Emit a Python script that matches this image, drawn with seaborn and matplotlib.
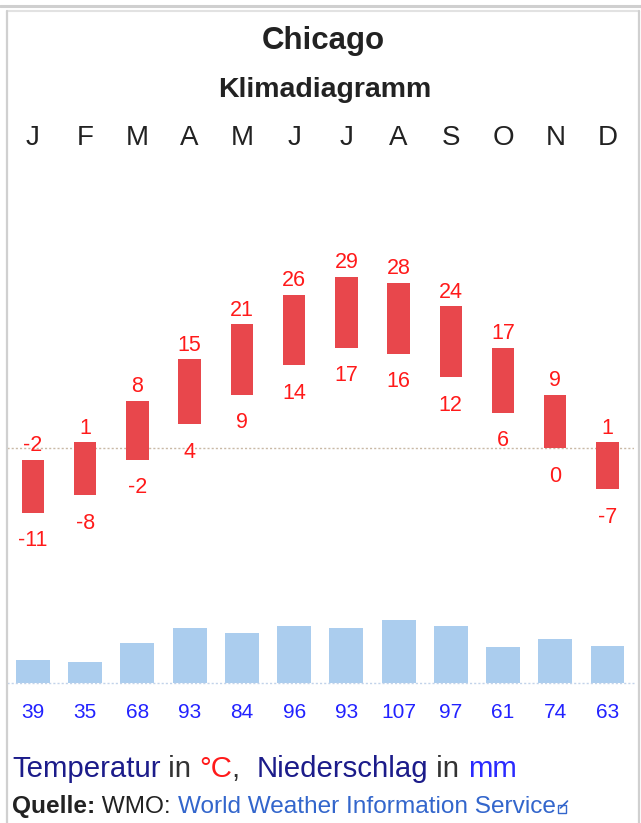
import numpy as np
import pandas as pd
import seaborn as sns
import matplotlib.pyplot as plt
from matplotlib.lines import Line2D
from matplotlib.patches import Rectangle

months = ["J", "F", "M", "A", "M", "J", "J", "A", "S", "O", "N", "D"]
t_max = [-2, 1, 8, 15, 21, 26, 29, 28, 24, 17, 9, 1]
t_min = [-11, -8, -2, 4, 9, 14, 17, 16, 12, 6, 0, -7]
precip = [39, 35, 68, 93, 84, 96, 93, 107, 97, 61, 74, 63]

W, H = 641, 823

sns.set_theme(style="white")
plt.rcParams["font.family"] = ["Liberation Sans", "DejaVu Sans"]

fig = plt.figure(figsize=(W / 100, H / 100), dpi=100)
fig.patch.set_facecolor("white")


def fx(px):
    return px / W


def fy(py):
    return 1 - py / H


# frame around the box
fig.add_artist(Line2D([0, 1], [fy(6), fy(6)], color="#cfcfcf", lw=2.2))
fig.add_artist(Line2D([fx(7), fx(639)], [fy(11), fy(11)], color="#e2e2e2", lw=1.5))
fig.add_artist(Line2D([fx(7), fx(7)], [fy(11), 0], color="#d0d0d0", lw=1.6))
fig.add_artist(Line2D([fx(639), fx(639)], [fy(11), 0], color="#d0d0d0", lw=1.6))

left, right = 6.9, 633.6
# temperature panel: zero line at 448 px, 5.9 px per degree
t_top, t_bot = 150, 560
ax = fig.add_axes([fx(left), fy(t_bot), fx(right - left), (t_bot - t_top) / H])
ax.set_xlim(-0.5, 11.5)
ax.set_ylim(-(t_bot - 448) / 5.9, (448 - t_top) / 5.9)

x = np.arange(12)
ax.bar(x, np.array(t_max) - np.array(t_min), bottom=t_min, width=0.43,
       color="#e8474c", linewidth=0)
ax.axhline(0, color="#c9b9a6", lw=1, ls=(0, (1.5, 1.5)), zorder=0)

red = "#ff1a1a"
for i in range(12):
    ax.annotate(str(t_max[i]), (i, t_max[i]), xytext=(0, 14), textcoords="offset pixels",
                ha="center", va="center", color=red, fontsize=15.5, annotation_clip=False)
    ax.annotate(str(t_min[i]), (i, t_min[i]), xytext=(0, -28), textcoords="offset pixels",
                ha="center", va="center", color=red, fontsize=15.5, annotation_clip=False)
    ax.text(i, (t_bot - 138) / (t_bot - t_top), months[i], transform=ax.get_xaxis_transform(),
            ha="center", va="center", fontsize=20, color="#222222")

ax.set_xticks([])
ax.set_yticks([])
sns.despine(ax=ax, left=True, bottom=True)

# precipitation panel: baseline at 683 px, 0.59 px per mm
p_top, p_bot = 600, 683
ax2 = fig.add_axes([fx(left), fy(p_bot), fx(right - left), (p_bot - p_top) / H])
df = pd.DataFrame({"month": range(12), "precip": precip})
sns.barplot(data=df, x="month", y="precip", ax=ax2, color="#abcdee", saturation=1,
            width=0.65, linewidth=0)
ax2.set_xlim(-0.5, 11.5)
ax2.set_ylim(0, (p_bot - p_top) / 0.59)
ax2.axhline(0, color="#c2d3ea", lw=1, ls=(0, (1.5, 1.5)), clip_on=False)
for i, v in enumerate(precip):
    ax2.annotate(str(v), (i, 0), xytext=(0, -30), textcoords="offset pixels",
                 ha="center", va="center", color="#2222ff", fontsize=15, annotation_clip=False)
ax2.set_xticks([])
ax2.set_yticks([])
ax2.set_xlabel("")
ax2.set_ylabel("")
sns.despine(ax=ax2, left=True, bottom=True, top=True, right=True)

# titles
fig.text(fx(323), fy(41), "Chicago", ha="center", va="center", fontsize=22.5,
         fontweight="bold", color="#222222")
fig.text(fx(325), fy(90), "Klimadiagramm", ha="center", va="center", fontsize=20.5,
         fontweight="bold", color="#222222")


def put_row(pieces, x0, y0, size):
    renderer = fig.canvas.get_renderer()
    xp = x0
    for s, color, weight in pieces:
        t = fig.text(fx(xp), fy(y0), s, ha="left", va="center", fontsize=size,
                     color=color, fontweight=weight)
        xp += t.get_window_extent(renderer).width
    return xp


navy = "#1c1c8a"
grey = "#333333"
put_row([("Temperatur", navy, "normal"), (" in ", grey, "normal"), ("°C", red, "normal"),
         (",  ", grey, "normal"), ("Niederschlag", navy, "normal"), (" in ", grey, "normal"),
         ("mm", "#2a2aff", "normal")], 12, 769, 21.2)

end = put_row([("Quelle:", "#222222", "bold"), (" WMO: ", "#222222", "normal"),
               ("World Weather Information Service", "#3366cc", "normal")], 12, 807, 17.6)

# small external link icon
fig.add_artist(Rectangle((fx(end + 2), fy(813)), fx(8), 8 / H, fill=False,
                         edgecolor="#3366cc", lw=1))
fig.add_artist(Line2D([fx(end + 5), fx(end + 12)], [fy(808), fy(801)], color="#3366cc", lw=1.2))

fig.savefig("out.png", dpi=100)
